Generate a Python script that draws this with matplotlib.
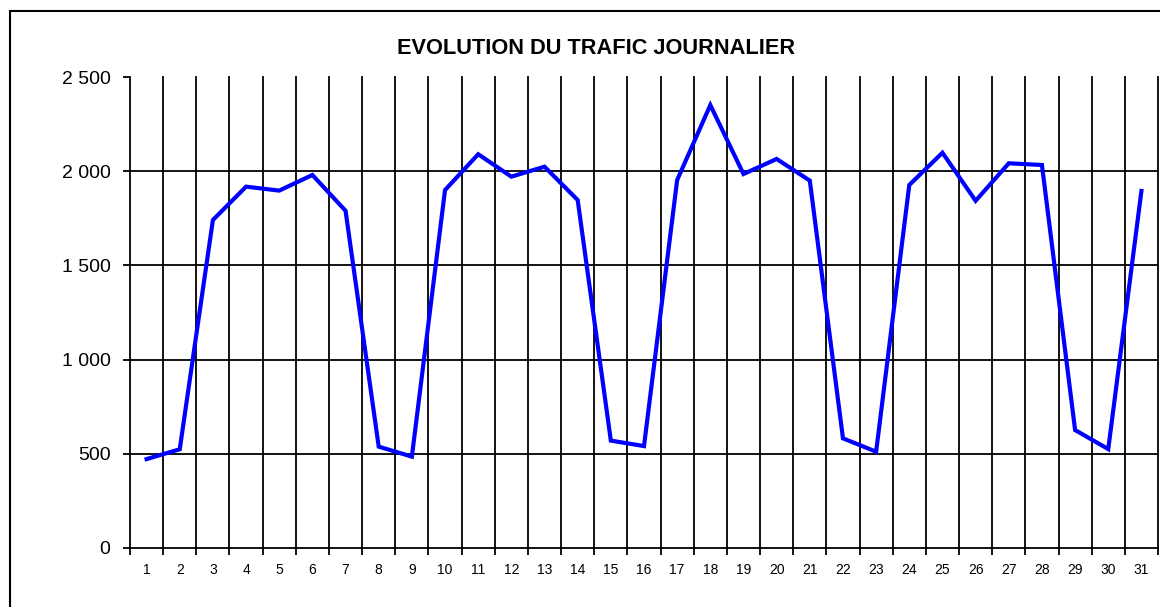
import matplotlib
matplotlib.use("Agg")
import matplotlib.pyplot as plt
from matplotlib.patches import Rectangle
import numpy as np

days = list(range(1, 32))
trafic = [472, 524, 1741, 1918, 1897, 1980, 1790, 538, 485, 1900,
          2090, 1971, 2024, 1847, 570, 541, 1953, 2351, 1985, 2065,
          1950, 582, 511, 1927, 2098, 1843, 2042, 2033, 626, 525, 1895]
y_ticks = [0, 500, 1000, 1500, 2000, 2500]
y_labels = ["0", "500", "1 000", "1 500", "2 000", "2 500"]
title = "EVOLUTION DU TRAFIC JOURNALIER"

plt.rcParams['font.family'] = ['Liberation Sans', 'DejaVu Sans']

W, H = 1160, 607
fig = plt.figure(figsize=(W / 100, H / 100), dpi=100)
fig.patch.set_facecolor("white")

# outer chart frame (cropped on right and bottom)
fig.patches.append(Rectangle((10 / W, -0.05), 1.2, (H - 11) / H + 0.05,
                             transform=fig.transFigure, fill=False,
                             edgecolor="black", linewidth=1.5))

ax = fig.add_axes([130 / W, (H - 548) / H, (1158 - 130) / W, (548 - 77) / H])
ax.set_xlim(0.5, 31.5)
ax.set_ylim(0, 2500)

# grid lines
for v in y_ticks[1:-1]:
    ax.axhline(v, color="black", linewidth=1.3, zorder=1)
for b in np.arange(1.5, 32, 1.0):
    ax.axvline(b, color="black", linewidth=1.3, zorder=1, clip_on=False)

ax.plot(days, trafic, color="#0000FF", linewidth=3.0, zorder=3,
        solid_joinstyle="miter")

for s in ["top", "right"]:
    ax.spines[s].set_visible(False)
ax.spines["left"].set_linewidth(1.3)
ax.spines["bottom"].set_linewidth(1.3)

ax.set_yticks(y_ticks)
ax.set_yticklabels(y_labels)
ax.tick_params(axis="y", direction="out", length=5, width=1.3, pad=9,
               labelsize=14, colors="black")

ax.set_xticks(days)
ax.set_xticklabels([str(d) for d in days])
ax.set_xticks(np.arange(0.5, 32, 1.0), minor=True)
ax.tick_params(axis="x", which="major", length=0, pad=11, labelsize=10)
ax.tick_params(axis="x", which="minor", direction="out", length=5, width=1.3)

fig.text(596 / W, 1 - 48 / H, title, ha="center", va="center",
         fontsize=15.7, fontweight="bold")

fig.savefig("out.png", dpi=100)
